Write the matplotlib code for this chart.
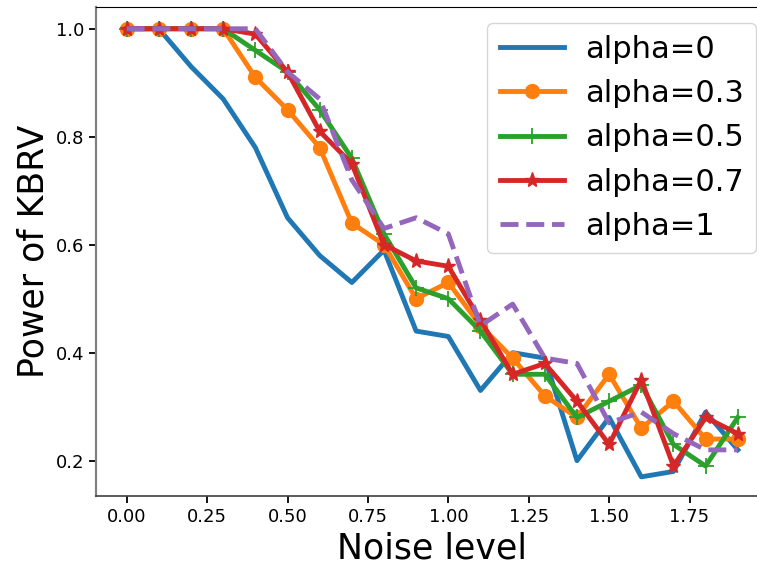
import matplotlib
matplotlib.use("Agg")
import matplotlib.pyplot as plt
import numpy as np

# noise levels 0.0 .. 1.9
noise = np.round(np.arange(0.0, 1.95, 0.1), 2)

power_a0 = [1.00, 1.00, 0.93, 0.87, 0.78, 0.65, 0.58, 0.53, 0.59, 0.44,
            0.43, 0.33, 0.40, 0.39, 0.20, 0.28, 0.17, 0.18, 0.29, 0.22]
power_a03 = [1.00, 1.00, 1.00, 1.00, 0.91, 0.85, 0.78, 0.64, 0.60, 0.50,
             0.53, 0.45, 0.39, 0.32, 0.28, 0.36, 0.26, 0.31, 0.24, 0.24]
power_a05 = [1.00, 1.00, 1.00, 1.00, 0.96, 0.92, 0.85, 0.76, 0.62, 0.52,
             0.50, 0.44, 0.36, 0.36, 0.28, 0.31, 0.34, 0.23, 0.19, 0.28]
power_a07 = [1.00, 1.00, 1.00, 1.00, 0.99, 0.92, 0.81, 0.75, 0.60, 0.57,
             0.56, 0.46, 0.36, 0.38, 0.31, 0.23, 0.35, 0.19, 0.28, 0.25]
power_a1 = [1.00, 1.00, 1.00, 1.00, 1.00, 0.92, 0.87, 0.72, 0.63, 0.65,
            0.62, 0.45, 0.49, 0.39, 0.38, 0.27, 0.29, 0.25, 0.22, 0.22]

series = [
    ("alpha=0", power_a0, dict(color="#1f77b4")),
    ("alpha=0.3", power_a03, dict(color="#ff7f0e", marker="o", markersize=10)),
    ("alpha=0.5", power_a05, dict(color="#2ca02c", marker="+", markersize=11,
                                  markeredgewidth=1.3)),
    ("alpha=0.7", power_a07, dict(color="#d62728", marker="*", markersize=11)),
    ("alpha=1", power_a1, dict(color="#9467bd", linestyle="--")),
]

fig = plt.figure(figsize=(7.57, 5.64), dpi=100)
ax = fig.add_axes([0.127, 0.121, 0.888, 0.867])

for label, vals, style in series:
    ax.plot(noise, vals, linewidth=3.5, label=label, **style)

ax.set_xlim(-0.095, 1.995)
ax.set_ylim(0.135, 1.0407)
ax.set_xticks([0.0, 0.25, 0.5, 0.75, 1.0, 1.25, 1.5, 1.75])
ax.set_yticks([0.2, 0.4, 0.6, 0.8, 1.0])
ax.tick_params(labelsize=13, length=5, width=1.3)

ax.spines["left"].set_color("#808080")
ax.spines["left"].set_linewidth(1.6)
ax.spines["bottom"].set_color("#404040")
ax.spines["bottom"].set_linewidth(1.2)

ax.set_xlabel("Noise level", fontsize=25)
ax.set_ylabel("Power of KBRV", fontsize=25)

ax.legend(fontsize=22, loc="upper right", bbox_to_anchor=(0.999, 0.96),
          bbox_transform=fig.transFigure, borderaxespad=0,
          handlelength=2.1, handletextpad=0.7)

fig.savefig("out.png", dpi=100)
